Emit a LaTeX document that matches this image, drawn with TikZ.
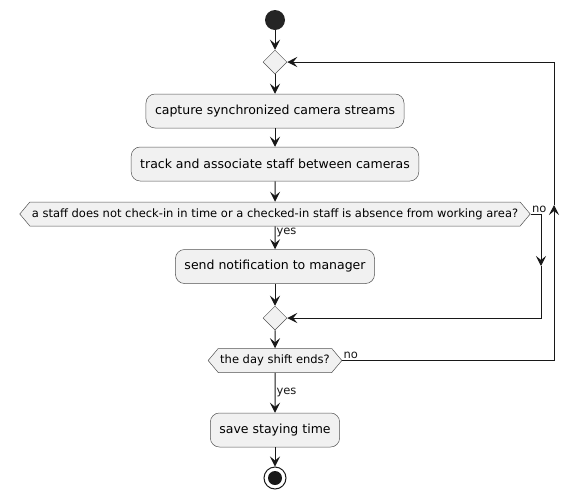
\documentclass[tikz,border=0pt]{standalone}
\usepackage{fontspec}
\setmainfont{DejaVu Sans}
\usetikzlibrary{arrows.meta,shapes.geometric,shapes.symbols}
\definecolor{actfill}{HTML}{F1F1F1}
\definecolor{actline}{HTML}{181818}

\begin{document}
\begin{tikzpicture}[x=1pt,y=-1pt,
  >={Stealth[length=10pt,width=10pt,inset=4pt]},
  flow/.style={->, line width=1pt, actline},
  act/.style={draw=actline!75, fill=actfill, rounded corners=9pt, line width=0.5pt,
    minimum height=34pt, inner xsep=9pt, font=\fontsize{12.5}{14}\selectfont},
  merge/.style={diamond, draw=actline!75, fill=actfill, line width=0.5pt,
    minimum size=24pt, inner sep=0pt},
  cond/.style={signal, signal to=west and east, signal pointer angle=100,
    draw=actline!75, fill=actfill, line width=0.5pt, minimum height=24pt,
    inner xsep=2pt, inner ysep=0pt, font=\fontsize{11.5}{13}\selectfont},
  lbl/.style={font=\fontsize{11.5}{13}\selectfont, inner sep=1pt}]
\useasboundingbox (0,0) rectangle (579,499);

\node[circle, fill=actline!95, minimum size=20pt, inner sep=0pt] (S) at (275,20) {};
\node[merge] (M1) at (275,62) {};
\node[act] (CAP) at (275,111) {capture synchronized camera streams};
\node[act] (TRK) at (275,164) {track and associate staff between cameras};
\node[cond] (Q1) at (275,214)
{a staff does not check-in in time or a checked-in staff is absence from working area?};
\node[act] (NTF) at (275,266.5) {send notification to manager};
\node[merge] (M2) at (275,318) {};
\node[cond] (Q2) at (275,360.5) {the day shift ends?};
\node[act] (SAV) at (275,430) {save staying time};
\node[circle, draw=actline, line width=1pt, minimum size=22pt, inner sep=0pt,
  path picture={\fill[actline] (path picture bounding box.center) circle (7pt);}]
  (E) at (275,478) {};

% side branches
\coordinate (N1) at (541,214);
\coordinate (N2) at (541,266);
\coordinate (N3) at (541,318);
\coordinate (L1) at (554,360.5);
\coordinate (L2) at (554,205);
\coordinate (L3) at (554,62);

\draw[flow] (S) to (M1);
\draw[flow] (M1) to (CAP);
\draw[flow] (CAP) to (TRK);
\draw[flow] (TRK) to (Q1);
\draw[flow] (Q1) to node[lbl, anchor=north west, pos=0]{yes} (NTF);
\draw[flow] (NTF) to (M2);
\draw[flow] (Q1.east) -- node[lbl, anchor=south west, pos=0]{no} (N1) -- (N2);
\draw[flow] (N2) -- (N3) -- (M2.east);
\draw[flow] (M2) to (Q2);
\draw[flow] (Q2) to node[lbl, right, midway]{yes} (SAV);
\draw[flow] (Q2.east) -- node[lbl, anchor=south west, pos=0]{no} (L1) -- (L2);
\draw[flow] (L2) -- (L3) -- (M1.east);
\draw[flow] (SAV) to (E);
\end{tikzpicture}
\end{document}
